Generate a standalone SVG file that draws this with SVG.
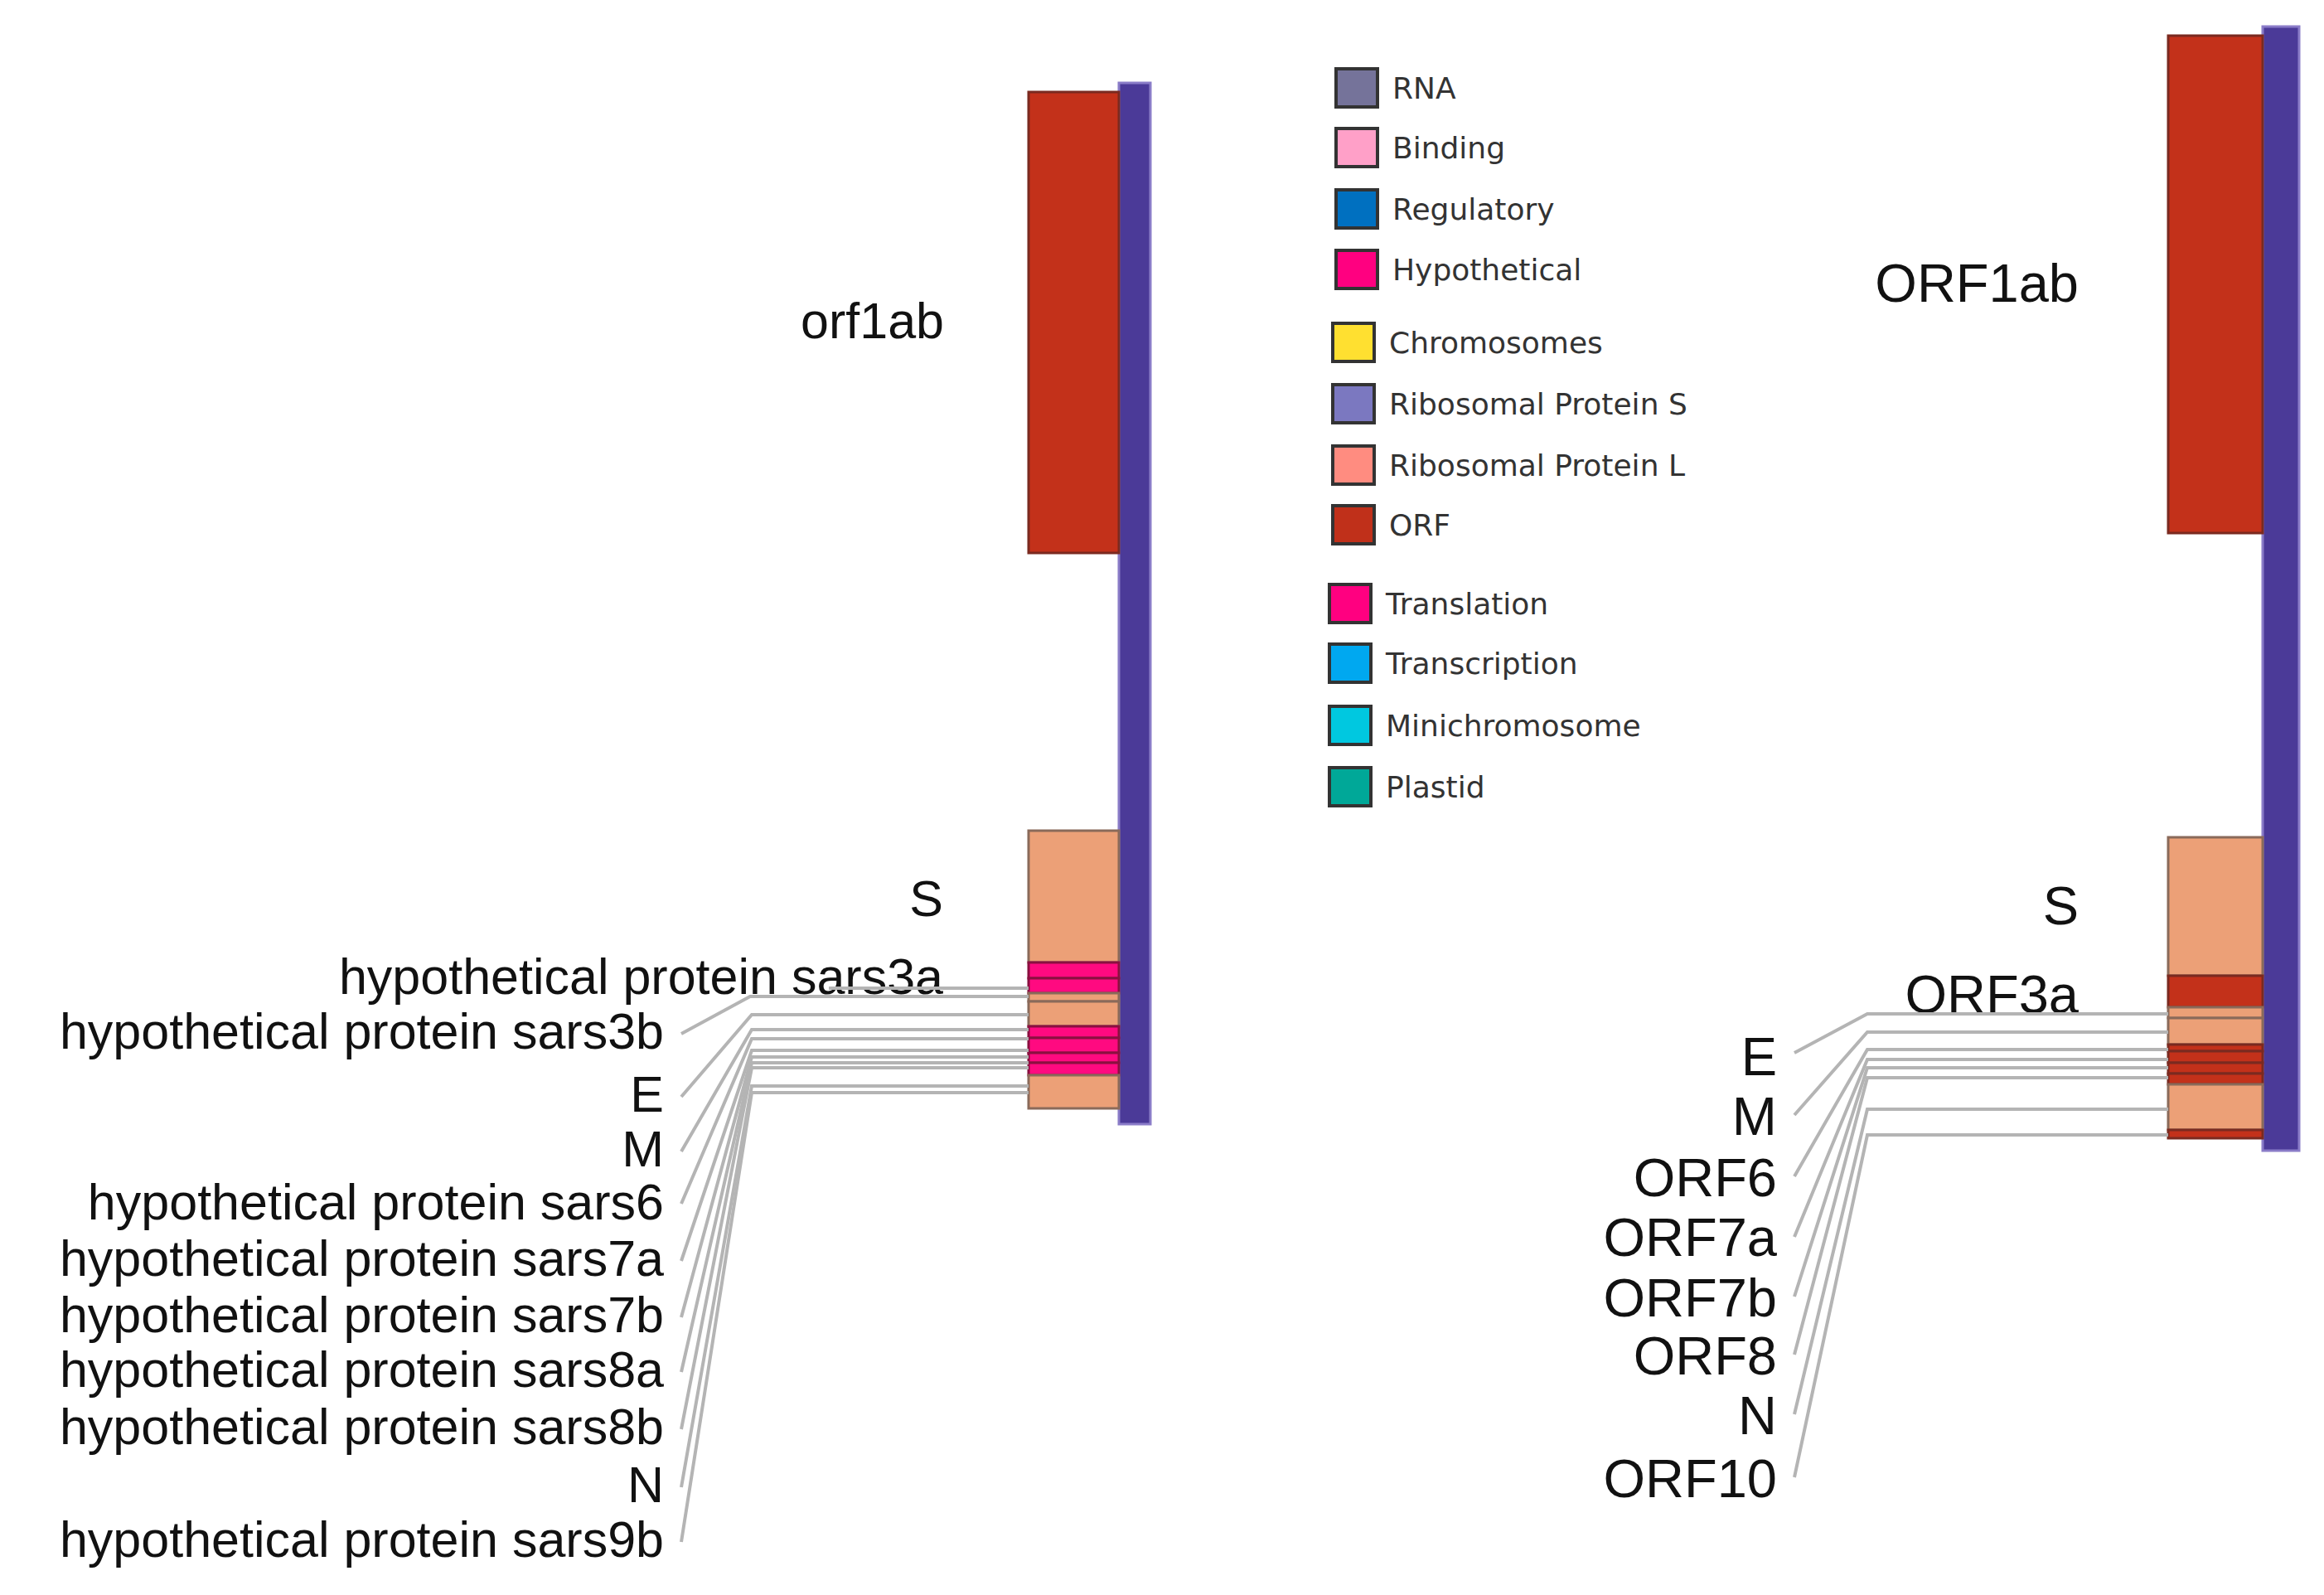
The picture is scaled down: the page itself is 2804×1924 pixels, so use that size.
<svg xmlns="http://www.w3.org/2000/svg" width="2804" height="1924" viewBox="0 0 2804 1924">
<style>
.bg{fill:#fff}
.chr{fill:#4b3a98;stroke:#8a7cc8;stroke-width:3}
.orf{fill:#c3311a;stroke:#7a2a20;stroke-width:3}
.pch{fill:#eca077;stroke:#8a6a5a;stroke-width:3}
.hyp{fill:#ff0a80;stroke:#8a1040;stroke-width:3}
.lbl{font-family:"Liberation Sans",Arial,sans-serif;font-size:61px;fill:#111}
.lblR{font-family:"Liberation Sans",Arial,sans-serif;font-size:65px;fill:#111}
.conn line,.conn polyline{fill:none;stroke:#b4b4b4;stroke-width:4}
.leg{font-family:"DejaVu Sans",sans-serif;font-size:36px;fill:#333}
.sw{stroke:#333;stroke-width:4}
</style>
<rect class="bg" x="0" y="0" width="2804" height="1924"/>

<g id="left-chromosome"><rect class="chr" x="1350" y="100" width="38" height="1256"/></g>
<g id="left-orf1ab"><rect class="orf" x="1241" y="111" width="109" height="556"/>
<text class="lbl" x="1139" y="408" text-anchor="end">orf1ab</text></g>
<g id="left-S"><rect class="pch" x="1241" y="1002" width="109" height="159"/>
<text class="lbl" x="1138" y="1105" text-anchor="end">S</text></g>
<g id="left-sars3a"><rect class="hyp" x="1241" y="1161" width="109" height="19"/><rect class="hyp" x="1241" y="1180" width="109" height="18"/>
<text class="lbl" x="1138" y="1199" text-anchor="end">hypothetical protein sars3a</text></g>
<g id="left-sars3b"><rect class="pch" x="1241" y="1198" width="109" height="10"/>
<text class="lbl" x="801" y="1265" text-anchor="end">hypothetical protein sars3b</text></g>
<g id="left-E"><rect class="pch" x="1241" y="1208" width="109" height="30"/>
<text class="lbl" x="801" y="1341" text-anchor="end">E</text></g>
<g id="left-M"><rect class="hyp" x="1241" y="1238" width="109" height="14"/>
<text class="lbl" x="801" y="1407" text-anchor="end">M</text></g>
<g id="left-sars6"><rect class="hyp" x="1241" y="1252" width="109" height="18"/>
<text class="lbl" x="801" y="1471" text-anchor="end">hypothetical protein sars6</text></g>
<g id="left-sars7a"><rect class="hyp" x="1241" y="1270" width="109" height="12"/>
<text class="lbl" x="801" y="1539" text-anchor="end">hypothetical protein sars7a</text></g>
<g id="left-sars7b"><rect class="hyp" x="1241" y="1282" width="109" height="15"/>
<text class="lbl" x="801" y="1607" text-anchor="end">hypothetical protein sars7b</text></g>
<g id="left-sars8a"><text class="lbl" x="801" y="1673" text-anchor="end">hypothetical protein sars8a</text></g>
<g id="left-sars8b"><text class="lbl" x="801" y="1742" text-anchor="end">hypothetical protein sars8b</text></g>
<g id="left-N"><rect class="pch" x="1241" y="1297" width="109" height="40"/>
<text class="lbl" x="801" y="1812" text-anchor="end">N</text></g>
<g id="left-sars9b"><text class="lbl" x="801" y="1878" text-anchor="end">hypothetical protein sars9b</text></g>

<g id="right-chromosome"><rect class="chr" x="2730" y="32" width="44" height="1356"/></g>
<g id="right-ORF1ab"><rect class="orf" x="2616" y="43" width="114" height="600"/>
<text class="lblR" x="2508" y="364" text-anchor="end">ORF1ab</text></g>
<g id="right-S"><rect class="pch" x="2616" y="1010" width="114" height="167"/>
<text class="lblR" x="2508" y="1115" text-anchor="end">S</text></g>
<g id="right-ORF3a"><rect class="orf" x="2616" y="1177" width="114" height="38"/>
<text class="lblR" x="2508" y="1222" text-anchor="end">ORF3a</text></g>
<g id="right-E"><rect class="pch" x="2616" y="1215" width="114" height="13"/>
<text class="lblR" x="2144" y="1297" text-anchor="end">E</text></g>
<g id="right-M"><rect class="pch" x="2616" y="1228" width="114" height="32"/>
<text class="lblR" x="2144" y="1369" text-anchor="end">M</text></g>
<g id="right-ORF6"><rect class="orf" x="2616" y="1260" width="114" height="8"/>
<text class="lblR" x="2144" y="1443" text-anchor="end">ORF6</text></g>
<g id="right-ORF7a"><rect class="orf" x="2616" y="1268" width="114" height="14"/>
<text class="lblR" x="2144" y="1515" text-anchor="end">ORF7a</text></g>
<g id="right-ORF7b"><rect class="orf" x="2616" y="1282" width="114" height="13"/>
<text class="lblR" x="2144" y="1588" text-anchor="end">ORF7b</text></g>
<g id="right-ORF8"><rect class="orf" x="2616" y="1295" width="114" height="13"/>
<text class="lblR" x="2144" y="1658" text-anchor="end">ORF8</text></g>
<g id="right-N"><rect class="pch" x="2616" y="1308" width="114" height="55"/>
<text class="lblR" x="2144" y="1730" text-anchor="end">N</text></g>
<g id="right-ORF10"><rect class="orf" x="2616" y="1363" width="114" height="10"/>
<text class="lblR" x="2144" y="1806" text-anchor="end">ORF10</text></g>

<g id="connectors" class="conn">
<line x1="1000" y1="1192" x2="1241" y2="1192"/>
<polyline points="1241,1202 905,1202 822,1247"/>
<polyline points="1241,1224 907,1224 822,1323"/>
<polyline points="1241,1242 907,1242 822,1389"/>
<polyline points="1241,1253 907,1253 822,1452"/>
<polyline points="1241,1267 907,1267 822,1521"/>
<polyline points="1241,1275 907,1275 822,1589"/>
<polyline points="1241,1282 907,1282 822,1655"/>
<polyline points="1241,1288 907,1288 822,1724"/>
<polyline points="1241,1310 907,1310 822,1794"/>
<polyline points="1241,1318 907,1318 822,1860"/>
<polyline points="2616,1223 2253,1223 2165,1270"/>
<polyline points="2616,1245 2253,1245 2165,1345"/>
<polyline points="2616,1266 2253,1266 2165,1419"/>
<polyline points="2616,1278 2253,1278 2165,1492"/>
<polyline points="2616,1288 2253,1288 2165,1564"/>
<polyline points="2616,1300 2253,1300 2165,1634"/>
<polyline points="2616,1338 2253,1338 2165,1706"/>
<polyline points="2616,1369 2253,1369 2165,1782"/>
</g>

<g id="legend">
<rect class="sw" x="1612" y="83" width="50" height="46" fill="#75739a"/><text class="leg" x="1680" y="119">RNA</text>
<rect class="sw" x="1612" y="155" width="50" height="46" fill="#ffa0c8"/><text class="leg" x="1680" y="191">Binding</text>
<rect class="sw" x="1612" y="229" width="50" height="46" fill="#0070c0"/><text class="leg" x="1680" y="265">Regulatory</text>
<rect class="sw" x="1612" y="302" width="50" height="46" fill="#ff0080"/><text class="leg" x="1680" y="338">Hypothetical</text>
<rect class="sw" x="1608" y="390" width="50" height="46" fill="#ffe030"/><text class="leg" x="1676" y="426">Chromosomes</text>
<rect class="sw" x="1608" y="464" width="50" height="46" fill="#7b78c0"/><text class="leg" x="1676" y="500">Ribosomal Protein S</text>
<rect class="sw" x="1608" y="538" width="50" height="46" fill="#ff8c80"/><text class="leg" x="1676" y="574">Ribosomal Protein L</text>
<rect class="sw" x="1608" y="610" width="50" height="46" fill="#c0301a"/><text class="leg" x="1676" y="646">ORF</text>
<rect class="sw" x="1604" y="705" width="50" height="46" fill="#ff0080"/><text class="leg" x="1672" y="741">Translation</text>
<rect class="sw" x="1604" y="777" width="50" height="46" fill="#00a8f0"/><text class="leg" x="1672" y="813">Transcription</text>
<rect class="sw" x="1604" y="852" width="50" height="46" fill="#00c8e0"/><text class="leg" x="1672" y="888">Minichromosome</text>
<rect class="sw" x="1604" y="926" width="50" height="46" fill="#00a898"/><text class="leg" x="1672" y="962">Plastid</text>
</g>
</svg>
